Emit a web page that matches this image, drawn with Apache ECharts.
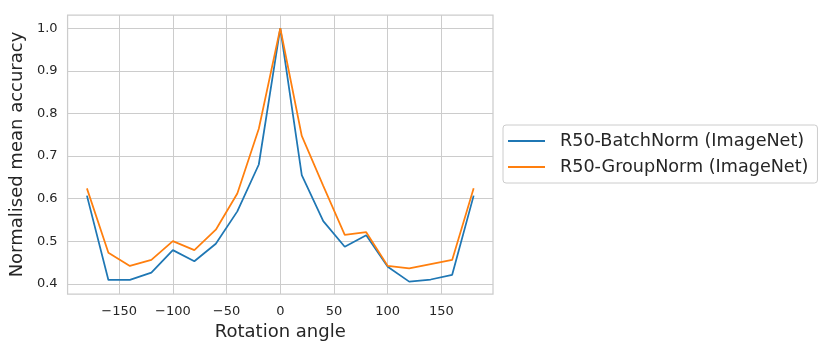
<!DOCTYPE html>
<html>
<head>
<meta charset="utf-8">
<script src="https://cdn.jsdelivr.net/npm/echarts@6/dist/echarts.min.js"></script>
<style>
	html, body { margin: 0; padding: 0; background: #fff; }
	#main { width: 830px; height: 350px; }
</style>
</head>
<body>
<div id="main"></div>
<script>
var angles = [-180, -160, -140, -120, -100, -80, -60, -40, -20, 0, 20, 40, 60, 80, 100, 120, 140, 160, 180];
var batchNorm = [0.607, 0.409, 0.409, 0.426, 0.479, 0.453, 0.494, 0.570, 0.680, 1.0, 0.655, 0.547, 0.487, 0.514, 0.440, 0.405, 0.410, 0.421, 0.607];
var groupNorm = [0.624, 0.473, 0.442, 0.456, 0.500, 0.479, 0.527, 0.612, 0.764, 1.0, 0.747, 0.630, 0.515, 0.521, 0.442, 0.436, 0.446, 0.456, 0.624];
var seriesNames = ['R50-BatchNorm (ImageNet)', 'R50-GroupNorm (ImageNet)'];
var seriesColors = ['#1f77b4', '#ff7f0e'];
var xTicks = [-150, -100, -50, 0, 50, 100, 150];
var yTicks = [0.4, 0.5, 0.6, 0.7, 0.8, 0.9, 1.0];

var mainChart = null;
var chartOpt = null;

function pairs(ys) {
	var out = [];
	for (var i = 0; i < angles.length; i++) {
		out.push([angles[i], ys[i]]);
	}
	return out;
}

function initChart() {
	var font = 'DejaVu Sans';
	mainChart = echarts.init(document.getElementById('main'));

	chartOpt = {
		animation: false,
		backgroundColor: '#ffffff',
		color: seriesColors,
		grid: {
			left: 63, right: 337, top: 15, bottom: 56,
			show: true, borderColor: '#cccccc', borderWidth: 1.25
		},
		legend: {
			orient: 'vertical',
			left: 503, top: 125,
			padding: [7, 9, 7, 5],
			itemGap: 8,
			itemWidth: 37, itemHeight: 2,
			icon: 'rect',
			borderColor: '#cccccc', borderWidth: 1, borderRadius: 3,
			textStyle: { fontFamily: font, fontSize: 17.6, color: '#262626', padding: [0, 0, 0, 10] },
			data: seriesNames
		},
		xAxis: {
			type: 'value',
			min: -198, max: 198,
			name: 'Rotation angle',
			nameLocation: 'middle', nameGap: 27,
			nameTextStyle: { fontFamily: font, fontSize: 18, color: '#262626' },
			axisLine: { show: false },
			axisTick: { show: false, customValues: xTicks },
			axisLabel: {
				customValues: xTicks,
				margin: 11, fontFamily: font, fontSize: 13, color: '#262626',
				formatter: function (v) { return String(v).replace('-', '\u2212'); }
			},
			splitLine: { lineStyle: { color: '#cccccc', width: 1 } }
		},
		yAxis: {
			type: 'value',
			min: 0.376, max: 1.031,
			name: 'Normalised mean accuracy',
			nameLocation: 'middle', nameGap: 37,
			nameTextStyle: { fontFamily: font, fontSize: 18, color: '#262626' },
			axisLine: { show: false },
			axisTick: { show: false, customValues: yTicks },
			axisLabel: {
				customValues: yTicks,
				margin: 10, fontFamily: font, fontSize: 13, color: '#262626',
				formatter: function (v) { return v.toFixed(1); }
			},
			splitLine: { lineStyle: { color: '#cccccc', width: 1 } }
		},
		series: [
			{
				name: seriesNames[0], type: 'line', symbol: 'none',
				lineStyle: { width: 1.75 },
				data: pairs(batchNorm)
			},
			{
				name: seriesNames[1], type: 'line', symbol: 'none',
				lineStyle: { width: 1.75 },
				data: pairs(groupNorm)
			}
		]
	};

	mainChart.setOption(chartOpt);
}

initChart();
</script>
</body>
</html>
